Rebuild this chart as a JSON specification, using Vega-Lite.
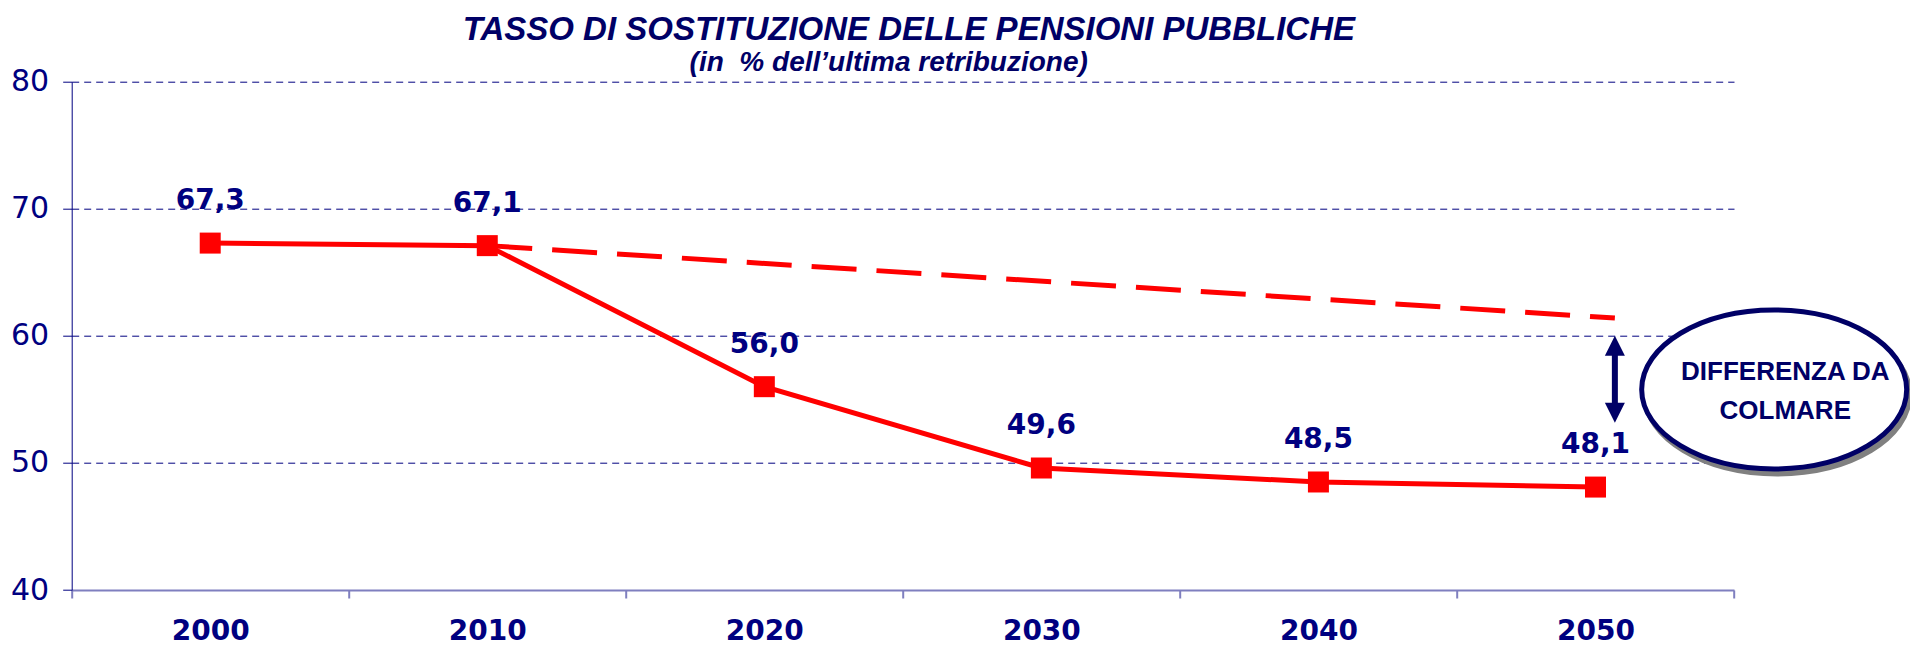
{
  "$schema": "https://vega.github.io/schema/vega-lite/v6.json",
  "width": 1662.3,
  "height": 508.3,
  "autosize": {"type": "none"},
  "padding": {"left": 71.7, "top": 81.7, "right": 176, "bottom": 57},
  "background": "white",
  "title": {
    "text": "TASSO DI SOSTITUZIONE DELLE PENSIONI PUBBLICHE",
    "anchor": "middle",
    "dx": 6,
    "font": "Liberation Sans",
    "fontSize": 33,
    "fontStyle": "italic",
    "fontWeight": "bold",
    "color": "#000066",
    "offset": 2
  },
  "config": {
    "view": {"stroke": null},
    "locale": {"number": {"decimal": ",", "thousands": ".", "grouping": [3], "currency": ["€", ""]}}
  },
  "datasets": {
    "solid": [
      {"year": 2000, "value": 67.3},
      {"year": 2010, "value": 67.1},
      {"year": 2020, "value": 56.0},
      {"year": 2030, "value": 49.6},
      {"year": 2040, "value": 48.5},
      {"year": 2050, "value": 48.1}
    ],
    "dashed": [
      {"year": 2010, "value": 67.1},
      {"year": 2050.7, "value": 61.4}
    ],
    "note": [{"label": ["DIFFERENZA DA", "COLMARE"], "sub": "(in \u00a0% dell’ultima retribuzione)"}]
  },
  "layer": [
    {
      "data": {"name": "dashed"},
      "mark": {"type": "line", "color": "#ff0000", "strokeWidth": 5, "strokeDash": [45, 20], "strokeCap": "butt"},
      "encoding": {
        "x": {
          "field": "year", "type": "quantitative",
          "scale": {"domain": [1995, 2055], "nice": false, "zero": false},
          "axis": {
            "values": [1995, 2000, 2005, 2010, 2015, 2020, 2025, 2030, 2035, 2040, 2045, 2050, 2055],
            "labelExpr": "datum.value % 10 === 0 ? '' + datum.value : ''",
            "tickOpacity": {"condition": {"test": "datum.value % 10 === 0", "value": 0}, "value": 1},
            "tickColor": "#7f7fbf", "tickWidth": 2, "tickSize": 8,
            "domainColor": "#7f7fbf", "domainWidth": 2,
            "grid": false, "title": null,
            "labelFont": "DejaVu Sans", "labelFontWeight": "bold", "labelFontSize": 28,
            "labelColor": "#000080", "labelPadding": 19, "labelOverlap": false, "labelFlush": false, "labelBound": false
          }
        },
        "y": {
          "field": "value", "type": "quantitative",
          "scale": {"domain": [40, 80], "nice": false, "zero": false},
          "axis": {
            "values": [40, 50, 60, 70, 80], "format": "d",
            "grid": true, "gridColor": "#000080", "gridDash": [7, 5], "gridWidth": 1,
            "gridOpacity": {"condition": {"test": "datum.value === 40", "value": 0}, "value": 1},
            "domainColor": "#000080", "domainWidth": 1,
            "tickColor": "#000080", "tickSize": 9, "tickWidth": 1,
            "labelFont": "DejaVu Sans", "labelFontSize": 30, "labelColor": "#000080", "labelPadding": 14,
            "title": null
          }
        }
      }
    },
    {
      "data": {"name": "solid"},
      "mark": {"type": "line", "color": "#ff0000", "strokeWidth": 5},
      "encoding": {
        "x": {"field": "year", "type": "quantitative"},
        "y": {"field": "value", "type": "quantitative"}
      }
    },
    {
      "data": {"name": "solid"},
      "mark": {"type": "point", "shape": "square", "size": 441, "filled": true, "color": "#ff0000", "opacity": 1},
      "encoding": {
        "x": {"field": "year", "type": "quantitative"},
        "y": {"field": "value", "type": "quantitative"}
      }
    },
    {
      "data": {"name": "solid"},
      "mark": {"type": "text", "font": "DejaVu Sans", "fontWeight": "bold", "fontSize": 28, "color": "#000080", "baseline": "middle", "align": "center", "dy": -42},
      "encoding": {
        "x": {"field": "year", "type": "quantitative"},
        "y": {"field": "value", "type": "quantitative"},
        "text": {"field": "value", "type": "quantitative", "format": ".1f"}
      }
    },
    {
      "data": {"name": "note"},
      "mark": {"type": "text", "font": "Liberation Sans", "fontWeight": "bold", "fontStyle": "italic", "fontSize": 28, "color": "#000066", "baseline": "middle", "align": "center"},
      "encoding": {
        "x": {"datum": 2024.49, "type": "quantitative"},
        "y": {"datum": 81.5, "type": "quantitative"},
        "text": {"field": "sub"}
      }
    },
    {
      "data": {"name": "note"},
      "mark": {"type": "rule", "color": "#000066", "strokeWidth": 6},
      "encoding": {
        "x": {"datum": 2050.7, "type": "quantitative"},
        "y": {"datum": 59.2, "type": "quantitative"},
        "y2": {"datum": 53.97}
      }
    },
    {
      "data": {"name": "note"},
      "mark": {"type": "point", "shape": "M0,-1L1,1L-1,1Z", "size": 400, "filled": true, "color": "#000066", "opacity": 1, "yOffset": 10},
      "encoding": {
        "x": {"datum": 2050.7, "type": "quantitative"},
        "y": {"datum": 60, "type": "quantitative"}
      }
    },
    {
      "data": {"name": "note"},
      "mark": {"type": "point", "shape": "M0,1L1,-1L-1,-1Z", "size": 400, "filled": true, "color": "#000066", "opacity": 1, "yOffset": -10},
      "encoding": {
        "x": {"datum": 2050.7, "type": "quantitative"},
        "y": {"datum": 53.17, "type": "quantitative"}
      }
    },
    {
      "data": {"name": "note"},
      "mark": {
        "type": "point",
        "shape": "M1,0C1,0.3314,0.5523,0.6,0,0.6C-0.5523,0.6,-1,0.3314,-1,0C-1,-0.3314,-0.5523,-0.6,0,-0.6C0.5523,-0.6,1,-0.3314,1,0Z",
        "size": 70225, "filled": true, "fill": "#808080", "stroke": "#808080", "strokeWidth": 5, "opacity": 1,
        "xOffset": 3, "yOffset": 5
      },
      "encoding": {
        "x": {"datum": 2056.45, "type": "quantitative"},
        "y": {"datum": 55.78, "type": "quantitative"}
      }
    },
    {
      "data": {"name": "note"},
      "mark": {
        "type": "point",
        "shape": "M1,0C1,0.3314,0.5523,0.6,0,0.6C-0.5523,0.6,-1,0.3314,-1,0C-1,-0.3314,-0.5523,-0.6,0,-0.6C0.5523,-0.6,1,-0.3314,1,0Z",
        "size": 70225, "filled": true, "fill": "#ffffff", "stroke": "#000066", "strokeWidth": 5, "opacity": 1
      },
      "encoding": {
        "x": {"datum": 2056.45, "type": "quantitative"},
        "y": {"datum": 55.78, "type": "quantitative"}
      }
    },
    {
      "data": {"name": "note"},
      "mark": {"type": "text", "font": "Liberation Sans", "fontWeight": "bold", "fontSize": 26, "color": "#000066", "align": "center", "baseline": "middle", "lineHeight": 39},
      "encoding": {
        "x": {"datum": 2056.85, "type": "quantitative"},
        "y": {"datum": 57.18, "type": "quantitative"},
        "text": {"field": "label"}
      }
    }
  ]
}
